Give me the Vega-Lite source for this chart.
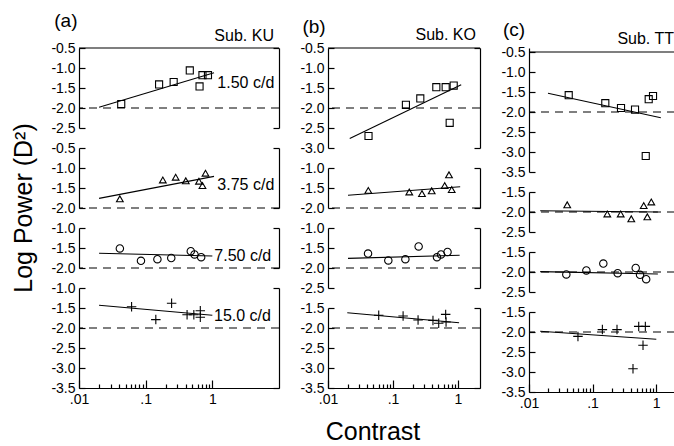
{
"$schema": "https://vega.github.io/schema/vega-lite/v6.json",
"autosize": {"type": "pad"},
"padding": {"left": 12, "top": 12, "right": 0, "bottom": 0},
"background": "white",
"config": {
  "font": "Liberation Sans",
  "view": {"stroke": null},
  "axis": {"domainColor": "black", "tickColor": "black", "labelColor": "black", "domainWidth": 1.2, "tickWidth": 1.2, "labelFontSize": 14, "labelFont": "Liberation Sans", "grid": false},
  "text": {"font": "Liberation Sans", "color": "black"}
},
"datasets": {
  "pts": [
    {"s":"KU","f":1.5,"c":0.043,"p":-1.9},{"s":"KU","f":1.5,"c":0.159,"p":-1.41},{"s":"KU","f":1.5,"c":0.263,"p":-1.35},{"s":"KU","f":1.5,"c":0.459,"p":-1.06},{"s":"KU","f":1.5,"c":0.643,"p":-1.46},{"s":"KU","f":1.5,"c":0.711,"p":-1.18},{"s":"KU","f":1.5,"c":0.86,"p":-1.18},
    {"s":"KU","f":3.75,"c":0.041,"p":-1.77},{"s":"KU","f":3.75,"c":0.181,"p":-1.3},{"s":"KU","f":3.75,"c":0.282,"p":-1.23},{"s":"KU","f":3.75,"c":0.4,"p":-1.32},{"s":"KU","f":3.75,"c":0.63,"p":-1.33},{"s":"KU","f":3.75,"c":0.711,"p":-1.44},{"s":"KU","f":3.75,"c":0.79,"p":-1.13},
    {"s":"KU","f":7.5,"c":0.041,"p":-1.51},{"s":"KU","f":7.5,"c":0.085,"p":-1.82},{"s":"KU","f":7.5,"c":0.15,"p":-1.78},{"s":"KU","f":7.5,"c":0.242,"p":-1.75},{"s":"KU","f":7.5,"c":0.475,"p":-1.58},{"s":"KU","f":7.5,"c":0.54,"p":-1.66},{"s":"KU","f":7.5,"c":0.68,"p":-1.73},
    {"s":"KU","f":15,"c":0.0615,"p":-1.47},{"s":"KU","f":15,"c":0.142,"p":-1.79},{"s":"KU","f":15,"c":0.245,"p":-1.38},{"s":"KU","f":15,"c":0.418,"p":-1.67},{"s":"KU","f":15,"c":0.528,"p":-1.67},{"s":"KU","f":15,"c":0.66,"p":-1.57},{"s":"KU","f":15,"c":0.66,"p":-1.73},
    {"s":"KO","f":1.5,"c":0.042,"p":-2.7},{"s":"KO","f":1.5,"c":0.158,"p":-1.92},{"s":"KO","f":1.5,"c":0.263,"p":-1.76},{"s":"KO","f":1.5,"c":0.464,"p":-1.48},{"s":"KO","f":1.5,"c":0.646,"p":-1.48},{"s":"KO","f":1.5,"c":0.745,"p":-2.37},{"s":"KO","f":1.5,"c":0.859,"p":-1.44},
    {"s":"KO","f":3.75,"c":0.0417,"p":-1.56},{"s":"KO","f":3.75,"c":0.178,"p":-1.6},{"s":"KO","f":3.75,"c":0.279,"p":-1.64},{"s":"KO","f":3.75,"c":0.394,"p":-1.57},{"s":"KO","f":3.75,"c":0.624,"p":-1.44},{"s":"KO","f":3.75,"c":0.727,"p":-1.17},{"s":"KO","f":3.75,"c":0.8,"p":-1.54},
    {"s":"KO","f":7.5,"c":0.0413,"p":-1.64},{"s":"KO","f":7.5,"c":0.0847,"p":-1.81},{"s":"KO","f":7.5,"c":0.155,"p":-1.78},{"s":"KO","f":7.5,"c":0.248,"p":-1.46},{"s":"KO","f":7.5,"c":0.475,"p":-1.73},{"s":"KO","f":7.5,"c":0.548,"p":-1.66},{"s":"KO","f":7.5,"c":0.69,"p":-1.6},
    {"s":"KO","f":15,"c":0.0603,"p":-1.68},{"s":"KO","f":15,"c":0.143,"p":-1.7},{"s":"KO","f":15,"c":0.243,"p":-1.8},{"s":"KO","f":15,"c":0.412,"p":-1.81},{"s":"KO","f":15,"c":0.505,"p":-1.88},{"s":"KO","f":15,"c":0.646,"p":-1.66},{"s":"KO","f":15,"c":0.655,"p":-1.85},
    {"s":"TT","f":1.5,"c":0.0422,"p":-1.58},{"s":"TT","f":1.5,"c":0.159,"p":-1.78},{"s":"TT","f":1.5,"c":0.281,"p":-1.9},{"s":"TT","f":1.5,"c":0.467,"p":-1.94},{"s":"TT","f":1.5,"c":0.689,"p":-3.1},{"s":"TT","f":1.5,"c":0.767,"p":-1.68},{"s":"TT","f":1.5,"c":0.897,"p":-1.6},
    {"s":"TT","f":3.75,"c":0.04,"p":-1.82},{"s":"TT","f":3.75,"c":0.171,"p":-2.05},{"s":"TT","f":3.75,"c":0.278,"p":-2.05},{"s":"TT","f":3.75,"c":0.408,"p":-2.17},{"s":"TT","f":3.75,"c":0.64,"p":-1.84},{"s":"TT","f":3.75,"c":0.73,"p":-2.12},{"s":"TT","f":3.75,"c":0.843,"p":-1.75},
    {"s":"TT","f":7.5,"c":0.0387,"p":-2.06},{"s":"TT","f":7.5,"c":0.08,"p":-1.96},{"s":"TT","f":7.5,"c":0.148,"p":-1.79},{"s":"TT","f":7.5,"c":0.249,"p":-2.03},{"s":"TT","f":7.5,"c":0.479,"p":-1.9},{"s":"TT","f":7.5,"c":0.56,"p":-2.07},{"s":"TT","f":7.5,"c":0.7,"p":-2.18},
    {"s":"TT","f":15,"c":0.059,"p":-2.11},{"s":"TT","f":15,"c":0.143,"p":-1.94},{"s":"TT","f":15,"c":0.243,"p":-1.94},{"s":"TT","f":15,"c":0.434,"p":-2.92},{"s":"TT","f":15,"c":0.534,"p":-1.86},{"s":"TT","f":15,"c":0.679,"p":-1.86},{"s":"TT","f":15,"c":0.624,"p":-2.33}
  ],
  "fit": [
    {"s":"KU","f":1.5,"c":0.02,"p":-1.98},{"s":"KU","f":1.5,"c":1.06,"p":-1.12},
    {"s":"KU","f":3.75,"c":0.02,"p":-1.76},{"s":"KU","f":3.75,"c":1.06,"p":-1.21},
    {"s":"KU","f":7.5,"c":0.02,"p":-1.63},{"s":"KU","f":7.5,"c":1.0,"p":-1.7},
    {"s":"KU","f":15,"c":0.02,"p":-1.43},{"s":"KU","f":15,"c":1.0,"p":-1.68},
    {"s":"KO","f":1.5,"c":0.0216,"p":-2.76},{"s":"KO","f":1.5,"c":1.12,"p":-1.42},
    {"s":"KO","f":3.75,"c":0.0203,"p":-1.68},{"s":"KO","f":3.75,"c":1.08,"p":-1.47},
    {"s":"KO","f":7.5,"c":0.0203,"p":-1.76},{"s":"KO","f":7.5,"c":1.06,"p":-1.68},
    {"s":"KO","f":15,"c":0.0198,"p":-1.62},{"s":"KO","f":15,"c":1.04,"p":-1.87},
    {"s":"TT","f":1.5,"c":0.0199,"p":-1.53},{"s":"TT","f":1.5,"c":1.19,"p":-2.145},
    {"s":"TT","f":3.75,"c":0.015,"p":-1.97},{"s":"TT","f":3.75,"c":1.07,"p":-2.0},
    {"s":"TT","f":7.5,"c":0.015,"p":-1.99},{"s":"TT","f":7.5,"c":1.07,"p":-2.05},
    {"s":"TT","f":15,"c":0.015,"p":-1.98},{"s":"TT","f":15,"c":1.01,"p":-2.18}
  ]
},
"spacing": 19,
"hconcat": [
 {"spacing": 20, "bounds": "flush", "vconcat": [
  {"width": 200, "height": 80, "resolve": {"axis": {"y": "independent"}}, "layer": [
    {"data": {"values": [{}]}, "mark": {"type": "rule", "color": "black", "strokeWidth": 1.2, "strokeDash": [8, 6]},
     "encoding": {"y": {"datum": -2, "type": "quantitative", "scale": {"domain": [-2.5, -0.5], "nice": false, "zero": false}, "axis": {"orient": "right", "values": [-2.5, -0.5], "labels": false, "tickSize": -6, "title": null}}}},
    {"data": {"values": [{}]}, "mark": {"type": "rule", "color": "black", "strokeWidth": 1.2},
     "encoding": {"y": {"datum": -0.5, "type": "quantitative", "axis": null}}},
    {"data": {"name": "pts"}, "transform": [{"filter": "datum.s=='KU' && datum.f==1.5"}],
     "mark": {"type": "point", "shape": "square", "size": 50, "filled": false, "color": "black", "strokeWidth": 1.1, "opacity": 1},
     "encoding": {"x": {"field": "c", "type": "quantitative", "scale": {"type": "log", "domain": [0.01, 10], "nice": false}, "axis": null},
       "y": {"field": "p", "type": "quantitative", "scale": {"domain": [-2.5, -0.5], "nice": false, "zero": false}, "axis": {"orient": "left", "values": [-2.5, -2, -1.5, -1, -0.5], "tickSize": -6, "labelPadding": 10, "labelExpr": "replace(format(datum.value,'.1f'),'\u2212','-')", "title": null}}}},
    {"data": {"name": "fit"}, "transform": [{"filter": "datum.s=='KU' && datum.f==1.5"}],
     "mark": {"type": "line", "color": "black", "strokeWidth": 1.1},
     "encoding": {"x": {"field": "c", "type": "quantitative", "axis": null}, "y": {"field": "p", "type": "quantitative", "axis": null}}},
    {"data": {"values": [{}]}, "mark": {"type": "text", "fontSize": 16, "align": "left", "baseline": "middle"},
     "encoding": {"x": {"datum": 1.19, "type": "quantitative", "axis": null}, "y": {"datum": -1.375, "type": "quantitative", "axis": null}, "text": {"value": "1.50 c/d"}}},
    {"data": {"values": [{}]}, "mark": {"type": "text", "fontSize": 19, "align": "center", "baseline": "middle"},
     "encoding": {"x": {"datum": 0.00635, "type": "quantitative", "axis": null}, "y": {"datum": 0.175, "type": "quantitative", "axis": null}, "text": {"value": "(a)"}}},
    {"data": {"values": [{}]}, "mark": {"type": "text", "fontSize": 16, "align": "right", "baseline": "middle"},
     "encoding": {"x": {"datum": 8.4, "type": "quantitative", "axis": null}, "y": {"datum": -0.2, "type": "quantitative", "axis": null}, "text": {"value": "Sub. KU"}}}
  ]},
  {"width": 200, "height": 60, "resolve": {"axis": {"y": "independent"}}, "layer": [
    {"data": {"values": [{}]}, "mark": {"type": "rule", "color": "black", "strokeWidth": 1.2, "strokeDash": [8, 6]},
     "encoding": {"y": {"datum": -2, "type": "quantitative", "scale": {"domain": [-2, -0.5], "nice": false, "zero": false}, "axis": {"orient": "right", "values": [-2, -0.5], "labels": false, "tickSize": -6, "title": null}}}},
    {"data": {"name": "pts"}, "transform": [{"filter": "datum.s=='KU' && datum.f==3.75"}],
     "mark": {"type": "point", "shape": "triangle-up", "size": 45, "filled": false, "color": "black", "strokeWidth": 1.1, "opacity": 1},
     "encoding": {"x": {"field": "c", "type": "quantitative", "scale": {"type": "log", "domain": [0.01, 10], "nice": false}, "axis": null},
       "y": {"field": "p", "type": "quantitative", "scale": {"domain": [-2, -0.5], "nice": false, "zero": false}, "axis": {"orient": "left", "values": [-2, -1.5, -1, -0.5], "tickSize": -6, "labelPadding": 10, "labelExpr": "replace(format(datum.value,'.1f'),'\u2212','-')", "title": null}}}},
    {"data": {"name": "fit"}, "transform": [{"filter": "datum.s=='KU' && datum.f==3.75"}],
     "mark": {"type": "line", "color": "black", "strokeWidth": 1.1},
     "encoding": {"x": {"field": "c", "type": "quantitative", "axis": null}, "y": {"field": "p", "type": "quantitative", "axis": null}}},
    {"data": {"values": [{}]}, "mark": {"type": "text", "fontSize": 16, "align": "left", "baseline": "middle"},
     "encoding": {"x": {"datum": 1.19, "type": "quantitative", "axis": null}, "y": {"datum": -1.425, "type": "quantitative", "axis": null}, "text": {"value": "3.75 c/d"}}},
    {"data": {"values": [{}]}, "mark": {"type": "text", "fontSize": 25, "align": "center", "baseline": "middle", "angle": 270},
     "encoding": {"x": {"datum": 0.00152, "type": "quantitative", "axis": null}, "y": {"datum": -2.0, "type": "quantitative", "axis": null}, "text": {"value": "Log Power (D²)"}}}
  ]},
  {"width": 200, "height": 40, "resolve": {"axis": {"y": "independent"}}, "layer": [
    {"data": {"values": [{}]}, "mark": {"type": "rule", "color": "black", "strokeWidth": 1.2, "strokeDash": [8, 6]},
     "encoding": {"y": {"datum": -2, "type": "quantitative", "scale": {"domain": [-2, -1], "nice": false, "zero": false}, "axis": {"orient": "right", "values": [-2, -1], "labels": false, "tickSize": -6, "title": null}}}},
    {"data": {"name": "pts"}, "transform": [{"filter": "datum.s=='KU' && datum.f==7.5"}],
     "mark": {"type": "point", "shape": "circle", "size": 55, "filled": false, "color": "black", "strokeWidth": 1.1, "opacity": 1},
     "encoding": {"x": {"field": "c", "type": "quantitative", "scale": {"type": "log", "domain": [0.01, 10], "nice": false}, "axis": null},
       "y": {"field": "p", "type": "quantitative", "scale": {"domain": [-2, -1], "nice": false, "zero": false}, "axis": {"orient": "left", "values": [-2, -1.5, -1], "tickSize": -6, "labelPadding": 10, "labelExpr": "replace(format(datum.value,'.1f'),'\u2212','-')", "title": null}}}},
    {"data": {"name": "fit"}, "transform": [{"filter": "datum.s=='KU' && datum.f==7.5"}],
     "mark": {"type": "line", "color": "black", "strokeWidth": 1.1},
     "encoding": {"x": {"field": "c", "type": "quantitative", "axis": null}, "y": {"field": "p", "type": "quantitative", "axis": null}}},
    {"data": {"values": [{}]}, "mark": {"type": "text", "fontSize": 16, "align": "left", "baseline": "middle"},
     "encoding": {"x": {"datum": 1.07, "type": "quantitative", "axis": null}, "y": {"datum": -1.69, "type": "quantitative", "axis": null}, "text": {"value": "7.50 c/d"}}}
  ]},
  {"width": 200, "height": 100, "resolve": {"axis": {"y": "independent"}}, "layer": [
    {"data": {"values": [{}]}, "mark": {"type": "rule", "color": "black", "strokeWidth": 1.2, "strokeDash": [8, 6]},
     "encoding": {"y": {"datum": -2, "type": "quantitative", "scale": {"domain": [-3.5, -1], "nice": false, "zero": false}, "axis": {"orient": "right", "values": [-3.5, -1], "labels": false, "tickSize": -6, "title": null}}}},
    {"data": {"name": "pts"}, "transform": [{"filter": "datum.s=='KU' && datum.f==15"}],
     "mark": {"type": "point", "shape": "M-1,0L1,0M0,-1L0,1", "size": 90, "filled": false, "color": "black", "strokeWidth": 1.1, "opacity": 1},
     "encoding": {"x": {"field": "c", "type": "quantitative", "scale": {"type": "log", "domain": [0.01, 10], "nice": false},
         "axis": {"orient": "bottom", "values": [0.01,0.02,0.03,0.04,0.05,0.06,0.07,0.08,0.09,0.1,0.2,0.3,0.4,0.5,0.6,0.7,0.8,0.9,1], "tickSize": {"condition": {"test": "datum.value==0.01||datum.value==0.1||datum.value==1", "value": -8}, "value": -4}, "labelPadding": 12, "labelExpr": "datum.value==0.01?'.01':datum.value==0.1?'.1':datum.value==1?'1':''", "labelFlush": false, "labelOverlap": false, "title": null}},
       "y": {"field": "p", "type": "quantitative", "scale": {"domain": [-3.5, -1], "nice": false, "zero": false}, "axis": {"orient": "left", "values": [-3.5, -3, -2.5, -2, -1.5, -1], "tickSize": -6, "labelPadding": 10, "labelExpr": "replace(format(datum.value,'.1f'),'\u2212','-')", "title": null}}}},
    {"data": {"name": "fit"}, "transform": [{"filter": "datum.s=='KU' && datum.f==15"}],
     "mark": {"type": "line", "color": "black", "strokeWidth": 1.1},
     "encoding": {"x": {"field": "c", "type": "quantitative"}, "y": {"field": "p", "type": "quantitative", "axis": null}}},
    {"data": {"values": [{}]}, "mark": {"type": "text", "fontSize": 16, "align": "left", "baseline": "middle"},
     "encoding": {"x": {"datum": 1.06, "type": "quantitative"}, "y": {"datum": -1.71, "type": "quantitative", "axis": null}, "text": {"value": "15.0 c/d"}}}
  ]}
 ]},
 {"spacing": 20, "bounds": "flush", "vconcat": [
  {"width": 152, "height": 100, "resolve": {"axis": {"y": "independent"}}, "layer": [
    {"data": {"values": [{}]}, "mark": {"type": "rule", "color": "black", "strokeWidth": 1.2, "strokeDash": [8, 6]},
     "encoding": {"y": {"datum": -2, "type": "quantitative", "scale": {"domain": [-3, -0.5], "nice": false, "zero": false}, "axis": {"orient": "right", "values": [-3, -0.5], "labels": false, "tickSize": -6, "title": null}}}},
    {"data": {"values": [{}]}, "mark": {"type": "rule", "color": "black", "strokeWidth": 1.2},
     "encoding": {"y": {"datum": -0.5, "type": "quantitative", "axis": null}}},
    {"data": {"name": "pts"}, "transform": [{"filter": "datum.s=='KO' && datum.f==1.5"}],
     "mark": {"type": "point", "shape": "square", "size": 50, "filled": false, "color": "black", "strokeWidth": 1.1, "opacity": 1},
     "encoding": {"x": {"field": "c", "type": "quantitative", "scale": {"type": "log", "domain": [0.01, 2.18], "nice": false}, "axis": null},
       "y": {"field": "p", "type": "quantitative", "scale": {"domain": [-3, -0.5], "nice": false, "zero": false}, "axis": {"orient": "left", "values": [-3, -2.5, -2, -1.5, -1, -0.5], "tickSize": -6, "labelPadding": 10, "labelExpr": "replace(format(datum.value,'.1f'),'\u2212','-')", "title": null}}}},
    {"data": {"name": "fit"}, "transform": [{"filter": "datum.s=='KO' && datum.f==1.5"}],
     "mark": {"type": "line", "color": "black", "strokeWidth": 1.1},
     "encoding": {"x": {"field": "c", "type": "quantitative", "axis": null}, "y": {"field": "p", "type": "quantitative", "axis": null}}},
    {"data": {"values": [{}]}, "mark": {"type": "text", "fontSize": 19, "align": "center", "baseline": "middle"},
     "encoding": {"x": {"datum": 0.0061, "type": "quantitative", "axis": null}, "y": {"datum": 0.025, "type": "quantitative", "axis": null}, "text": {"value": "(b)"}}},
    {"data": {"values": [{}]}, "mark": {"type": "text", "fontSize": 16, "align": "right", "baseline": "middle"},
     "encoding": {"x": {"datum": 1.89, "type": "quantitative", "axis": null}, "y": {"datum": -0.175, "type": "quantitative", "axis": null}, "text": {"value": "Sub. KO"}}}
  ]},
  {"width": 152, "height": 40, "resolve": {"axis": {"y": "independent"}}, "layer": [
    {"data": {"values": [{}]}, "mark": {"type": "rule", "color": "black", "strokeWidth": 1.2, "strokeDash": [8, 6]},
     "encoding": {"y": {"datum": -2, "type": "quantitative", "scale": {"domain": [-2, -1], "nice": false, "zero": false}, "axis": {"orient": "right", "values": [-2, -1], "labels": false, "tickSize": -6, "title": null}}}},
    {"data": {"name": "pts"}, "transform": [{"filter": "datum.s=='KO' && datum.f==3.75"}],
     "mark": {"type": "point", "shape": "triangle-up", "size": 45, "filled": false, "color": "black", "strokeWidth": 1.1, "opacity": 1},
     "encoding": {"x": {"field": "c", "type": "quantitative", "scale": {"type": "log", "domain": [0.01, 2.18], "nice": false}, "axis": null},
       "y": {"field": "p", "type": "quantitative", "scale": {"domain": [-2, -1], "nice": false, "zero": false}, "axis": {"orient": "left", "values": [-2, -1.5, -1], "tickSize": -6, "labelPadding": 10, "labelExpr": "replace(format(datum.value,'.1f'),'\u2212','-')", "title": null}}}},
    {"data": {"name": "fit"}, "transform": [{"filter": "datum.s=='KO' && datum.f==3.75"}],
     "mark": {"type": "line", "color": "black", "strokeWidth": 1.1},
     "encoding": {"x": {"field": "c", "type": "quantitative", "axis": null}, "y": {"field": "p", "type": "quantitative", "axis": null}}}
  ]},
  {"width": 152, "height": 60, "resolve": {"axis": {"y": "independent"}}, "layer": [
    {"data": {"values": [{}]}, "mark": {"type": "rule", "color": "black", "strokeWidth": 1.2, "strokeDash": [8, 6]},
     "encoding": {"y": {"datum": -2, "type": "quantitative", "scale": {"domain": [-2.5, -1], "nice": false, "zero": false}, "axis": {"orient": "right", "values": [-2.5, -1], "labels": false, "tickSize": -6, "title": null}}}},
    {"data": {"name": "pts"}, "transform": [{"filter": "datum.s=='KO' && datum.f==7.5"}],
     "mark": {"type": "point", "shape": "circle", "size": 55, "filled": false, "color": "black", "strokeWidth": 1.1, "opacity": 1},
     "encoding": {"x": {"field": "c", "type": "quantitative", "scale": {"type": "log", "domain": [0.01, 2.18], "nice": false}, "axis": null},
       "y": {"field": "p", "type": "quantitative", "scale": {"domain": [-2.5, -1], "nice": false, "zero": false}, "axis": {"orient": "left", "values": [-2.5, -2, -1.5, -1], "tickSize": -6, "labelPadding": 10, "labelExpr": "replace(format(datum.value,'.1f'),'\u2212','-')", "title": null}}}},
    {"data": {"name": "fit"}, "transform": [{"filter": "datum.s=='KO' && datum.f==7.5"}],
     "mark": {"type": "line", "color": "black", "strokeWidth": 1.1},
     "encoding": {"x": {"field": "c", "type": "quantitative", "axis": null}, "y": {"field": "p", "type": "quantitative", "axis": null}}}
  ]},
  {"width": 152, "height": 80, "resolve": {"axis": {"y": "independent"}}, "layer": [
    {"data": {"values": [{}]}, "mark": {"type": "rule", "color": "black", "strokeWidth": 1.2, "strokeDash": [8, 6]},
     "encoding": {"y": {"datum": -2, "type": "quantitative", "scale": {"domain": [-3.5, -1.5], "nice": false, "zero": false}, "axis": {"orient": "right", "values": [-3.5, -1.5], "labels": false, "tickSize": -6, "title": null}}}},
    {"data": {"name": "pts"}, "transform": [{"filter": "datum.s=='KO' && datum.f==15"}],
     "mark": {"type": "point", "shape": "M-1,0L1,0M0,-1L0,1", "size": 90, "filled": false, "color": "black", "strokeWidth": 1.1, "opacity": 1},
     "encoding": {"x": {"field": "c", "type": "quantitative", "scale": {"type": "log", "domain": [0.01, 2.18], "nice": false},
         "axis": {"orient": "bottom", "values": [0.01,0.02,0.03,0.04,0.05,0.06,0.07,0.08,0.09,0.1,0.2,0.3,0.4,0.5,0.6,0.7,0.8,0.9,1], "tickSize": {"condition": {"test": "datum.value==0.01||datum.value==0.1||datum.value==1", "value": -8}, "value": -4}, "labelPadding": 12, "labelExpr": "datum.value==0.01?'.01':datum.value==0.1?'.1':datum.value==1?'1':''", "labelFlush": false, "labelOverlap": false, "title": null}},
       "y": {"field": "p", "type": "quantitative", "scale": {"domain": [-3.5, -1.5], "nice": false, "zero": false}, "axis": {"orient": "left", "values": [-3.5, -3, -2.5, -2, -1.5], "tickSize": -6, "labelPadding": 10, "labelExpr": "replace(format(datum.value,'.1f'),'\u2212','-')", "title": null}}}},
    {"data": {"name": "fit"}, "transform": [{"filter": "datum.s=='KO' && datum.f==15"}],
     "mark": {"type": "line", "color": "black", "strokeWidth": 1.1},
     "encoding": {"x": {"field": "c", "type": "quantitative"}, "y": {"field": "p", "type": "quantitative", "axis": null}}},
    {"data": {"values": [{}]}, "mark": {"type": "text", "fontSize": 25, "align": "center", "baseline": "middle"},
     "encoding": {"x": {"datum": 0.0492, "type": "quantitative"}, "y": {"datum": -4.6, "type": "quantitative", "axis": null}, "text": {"value": "Contrast"}}}
  ]}
 ]},
 {"spacing": 20, "bounds": "flush", "vconcat": [
  {"width": 146, "height": 124, "resolve": {"axis": {"y": "independent"}}, "layer": [
    {"data": {"values": [{}]}, "mark": {"type": "rule", "color": "black", "strokeWidth": 1.2, "strokeDash": [8, 6]},
     "encoding": {"y": {"datum": -2, "type": "quantitative", "scale": {"domain": [-3.5, -0.4], "nice": false, "zero": false}, "axis": null}}},
    {"data": {"values": [{}]}, "mark": {"type": "rule", "color": "black", "strokeWidth": 1.2},
     "encoding": {"y": {"datum": -0.5, "type": "quantitative", "axis": null}}},
    {"data": {"name": "pts"}, "transform": [{"filter": "datum.s=='TT' && datum.f==1.5"}],
     "mark": {"type": "point", "shape": "square", "size": 50, "filled": false, "color": "black", "strokeWidth": 1.1, "opacity": 1},
     "encoding": {"x": {"field": "c", "type": "quantitative", "scale": {"type": "log", "domain": [0.01, 1.99], "nice": false}, "axis": null},
       "y": {"field": "p", "type": "quantitative", "scale": {"domain": [-3.5, -0.4], "nice": false, "zero": false}, "axis": {"orient": "left", "values": [-3.5, -3, -2.5, -2, -1.5, -1, -0.5], "tickSize": -6, "labelPadding": 10, "labelExpr": "replace(format(datum.value,'.1f'),'\u2212','-')", "title": null}}}},
    {"data": {"name": "fit"}, "transform": [{"filter": "datum.s=='TT' && datum.f==1.5"}],
     "mark": {"type": "line", "color": "black", "strokeWidth": 1.1},
     "encoding": {"x": {"field": "c", "type": "quantitative", "axis": null}, "y": {"field": "p", "type": "quantitative", "axis": null}}},
    {"data": {"values": [{}]}, "mark": {"type": "text", "fontSize": 19, "align": "center", "baseline": "middle"},
     "encoding": {"x": {"datum": 0.00581, "type": "quantitative", "axis": null}, "y": {"datum": 0.05, "type": "quantitative", "axis": null}, "text": {"value": "(c)"}}},
    {"data": {"values": [{}]}, "mark": {"type": "text", "fontSize": 16, "align": "right", "baseline": "middle"},
     "encoding": {"x": {"datum": 1.92, "type": "quantitative", "axis": null}, "y": {"datum": -0.175, "type": "quantitative", "axis": null}, "text": {"value": "Sub. TT"}}}
  ]},
  {"width": 146, "height": 40, "resolve": {"axis": {"y": "independent"}}, "layer": [
    {"data": {"values": [{}]}, "mark": {"type": "rule", "color": "black", "strokeWidth": 1.2, "strokeDash": [8, 6]},
     "encoding": {"y": {"datum": -2, "type": "quantitative", "scale": {"domain": [-2.5, -1.5], "nice": false, "zero": false}, "axis": null}}},
    {"data": {"name": "pts"}, "transform": [{"filter": "datum.s=='TT' && datum.f==3.75"}],
     "mark": {"type": "point", "shape": "triangle-up", "size": 45, "filled": false, "color": "black", "strokeWidth": 1.1, "opacity": 1},
     "encoding": {"x": {"field": "c", "type": "quantitative", "scale": {"type": "log", "domain": [0.01, 1.99], "nice": false}, "axis": null},
       "y": {"field": "p", "type": "quantitative", "scale": {"domain": [-2.5, -1.5], "nice": false, "zero": false}, "axis": {"orient": "left", "values": [-2.5, -2, -1.5], "tickSize": -6, "labelPadding": 10, "labelExpr": "replace(format(datum.value,'.1f'),'\u2212','-')", "title": null}}}},
    {"data": {"name": "fit"}, "transform": [{"filter": "datum.s=='TT' && datum.f==3.75"}],
     "mark": {"type": "line", "color": "black", "strokeWidth": 1.1},
     "encoding": {"x": {"field": "c", "type": "quantitative", "axis": null}, "y": {"field": "p", "type": "quantitative", "axis": null}}}
  ]},
  {"width": 146, "height": 40, "resolve": {"axis": {"y": "independent"}}, "layer": [
    {"data": {"values": [{}]}, "mark": {"type": "rule", "color": "black", "strokeWidth": 1.2, "strokeDash": [8, 6]},
     "encoding": {"y": {"datum": -2, "type": "quantitative", "scale": {"domain": [-2.5, -1.5], "nice": false, "zero": false}, "axis": null}}},
    {"data": {"name": "pts"}, "transform": [{"filter": "datum.s=='TT' && datum.f==7.5"}],
     "mark": {"type": "point", "shape": "circle", "size": 55, "filled": false, "color": "black", "strokeWidth": 1.1, "opacity": 1},
     "encoding": {"x": {"field": "c", "type": "quantitative", "scale": {"type": "log", "domain": [0.01, 1.99], "nice": false}, "axis": null},
       "y": {"field": "p", "type": "quantitative", "scale": {"domain": [-2.5, -1.5], "nice": false, "zero": false}, "axis": {"orient": "left", "values": [-2.5, -2, -1.5], "tickSize": -6, "labelPadding": 10, "labelExpr": "replace(format(datum.value,'.1f'),'\u2212','-')", "title": null}}}},
    {"data": {"name": "fit"}, "transform": [{"filter": "datum.s=='TT' && datum.f==7.5"}],
     "mark": {"type": "line", "color": "black", "strokeWidth": 1.1},
     "encoding": {"x": {"field": "c", "type": "quantitative", "axis": null}, "y": {"field": "p", "type": "quantitative", "axis": null}}}
  ]},
  {"width": 146, "height": 80, "resolve": {"axis": {"y": "independent"}}, "layer": [
    {"data": {"values": [{}]}, "mark": {"type": "rule", "color": "black", "strokeWidth": 1.2, "strokeDash": [8, 6]},
     "encoding": {"y": {"datum": -2, "type": "quantitative", "scale": {"domain": [-3.5, -1.5], "nice": false, "zero": false}, "axis": null}}},
    {"data": {"name": "pts"}, "transform": [{"filter": "datum.s=='TT' && datum.f==15"}],
     "mark": {"type": "point", "shape": "M-1,0L1,0M0,-1L0,1", "size": 90, "filled": false, "color": "black", "strokeWidth": 1.1, "opacity": 1},
     "encoding": {"x": {"field": "c", "type": "quantitative", "scale": {"type": "log", "domain": [0.01, 1.99], "nice": false},
         "axis": {"orient": "bottom", "values": [0.01,0.02,0.03,0.04,0.05,0.06,0.07,0.08,0.09,0.1,0.2,0.3,0.4,0.5,0.6,0.7,0.8,0.9,1], "tickSize": {"condition": {"test": "datum.value==0.01||datum.value==0.1||datum.value==1", "value": -8}, "value": -4}, "labelPadding": 12, "labelExpr": "datum.value==0.01?'.01':datum.value==0.1?'.1':datum.value==1?'1':''", "labelFlush": false, "labelOverlap": false, "title": null}},
       "y": {"field": "p", "type": "quantitative", "scale": {"domain": [-3.5, -1.5], "nice": false, "zero": false}, "axis": {"orient": "left", "values": [-3.5, -3, -2.5, -2, -1.5], "tickSize": -6, "labelPadding": 10, "labelExpr": "replace(format(datum.value,'.1f'),'\u2212','-')", "title": null}}}},
    {"data": {"name": "fit"}, "transform": [{"filter": "datum.s=='TT' && datum.f==15"}],
     "mark": {"type": "line", "color": "black", "strokeWidth": 1.1},
     "encoding": {"x": {"field": "c", "type": "quantitative"}, "y": {"field": "p", "type": "quantitative", "axis": null}}}
  ]}
 ]}
]
}
